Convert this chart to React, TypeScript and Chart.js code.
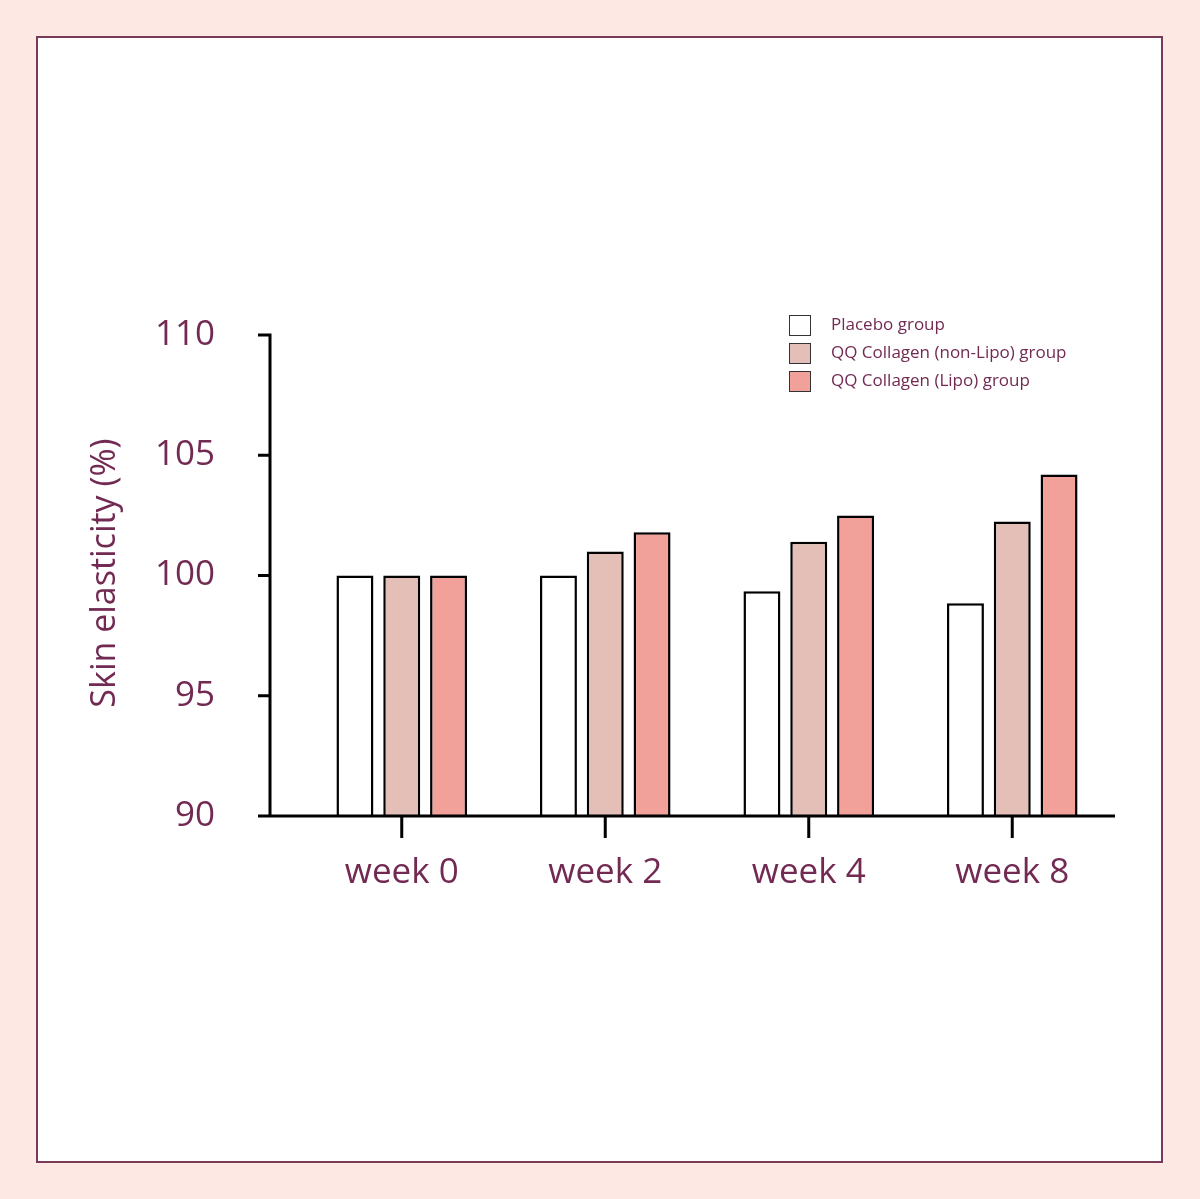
import React, { useEffect, useRef } from "react";
import { Chart, registerables } from "chart.js";
Chart.register(...registerables);

const categories = ["week 0", "week 2", "week 4", "week 8"];
const placebo = [100, 100, 99.35, 98.85];
const nonLipo = [100, 101.0, 101.4, 102.25];
const lipo = [100, 101.8, 102.5, 104.2];
const seriesNames = ["Placebo group", "QQ Collagen (non-Lipo) group", "QQ Collagen (Lipo) group"];
const colors = ["#ffffff", "#e3bfb8", "#f2a09a"];
const PURPLE = "#722a52";
const FONT = "'Open Sans', sans-serif";

const deco = {
  id: "deco",
  beforeDraw(chart: any) {
    const c = chart.ctx;
    c.save();
    c.fillStyle = "#fde8e3";
    c.fillRect(0, 0, chart.width, chart.height);
    c.fillStyle = "#ffffff";
    c.fillRect(37, 37, 1125, 1125);
    c.strokeStyle = "#7a3a5a";
    c.lineWidth = 2;
    c.strokeRect(37, 37, 1125, 1125);
    c.restore();
  },
  afterDraw(chart: any) {
    const c = chart.ctx;
    const y = chart.scales.y, x = chart.scales.x;
    const bottom = y.getPixelForValue(90), top = y.getPixelForValue(110);
    c.save();
    c.strokeStyle = "#000";
    c.lineWidth = 3;
    c.beginPath();
    c.moveTo(270, top - 1.5);
    c.lineTo(270, bottom);
    c.lineTo(1115, bottom);
    for (const v of [90, 95, 100, 105, 110]) {
      const p = y.getPixelForValue(v);
      c.moveTo(258, p);
      c.lineTo(270, p);
    }
    categories.forEach((_, i) => {
      const p = x.getPixelForValue(i);
      c.moveTo(p, bottom);
      c.lineTo(p, bottom + 22);
    });
    c.stroke();
    // y title
    c.fillStyle = PURPLE;
    c.font = `34px ${FONT}`;
    c.translate(105, 573);
    c.rotate(-Math.PI / 2);
    c.textAlign = "center";
    c.textBaseline = "middle";
    c.fillText("Skin elasticity (%)", 0, 0);
    c.restore();
    // legend
    c.save();
    c.font = `17px ${FONT}`;
    c.textBaseline = "middle";
    seriesNames.forEach((n, i) => {
      const yy = 315 + i * 28;
      c.fillStyle = colors[i];
      c.fillRect(789, yy, 21, 20);
      c.strokeStyle = "#333";
      c.lineWidth = 1;
      c.strokeRect(789.5, yy + 0.5, 21, 20);
      c.fillStyle = PURPLE;
      c.fillText(n, 831, yy + 10);
    });
    c.restore();
  },
};

export default function App() {
  const ref = useRef<HTMLCanvasElement>(null);
  useEffect(() => {
    const data = [placebo, nonLipo, lipo];
    const chart = new Chart(ref.current!, {
      type: "bar",
      data: {
        labels: categories,
        datasets: data.map((d, i) => ({
          label: seriesNames[i],
          data: d,
          backgroundColor: colors[i],
          borderColor: "#000",
          borderWidth: 2.5,
          borderSkipped: false,
          barPercentage: 0.79,
          categoryPercentage: 0.69,
        })),
      },
      options: {
        animation: false,
        responsive: false,
        devicePixelRatio: 1,
        layout: { padding: { left: 0, right: 86, top: 335, bottom: 0 } },
        plugins: { legend: { display: false }, tooltip: { enabled: false } },
        scales: {
          x: {
            grid: { display: false },
            border: { display: false },
            ticks: { color: PURPLE, font: { size: 35, family: FONT }, padding: 28 },
            afterFit: (s: any) => { s.height = 383; },
          },
          y: {
            min: 90,
            max: 110,
            grid: { display: false },
            border: { display: false },
            ticks: { stepSize: 5, color: PURPLE, font: { size: 35, family: FONT }, padding: 77 },
            afterFit: (s: any) => { s.width = 300; },
          },
        },
      },
      plugins: [deco],
    });
    return () => chart.destroy();
  }, []);
  return (
    <canvas
      ref={ref}
      width={1200}
      height={1199}
      style={{ position: "absolute", left: 0, top: 0, width: 1200, height: 1199 }}
    />
  );
}
